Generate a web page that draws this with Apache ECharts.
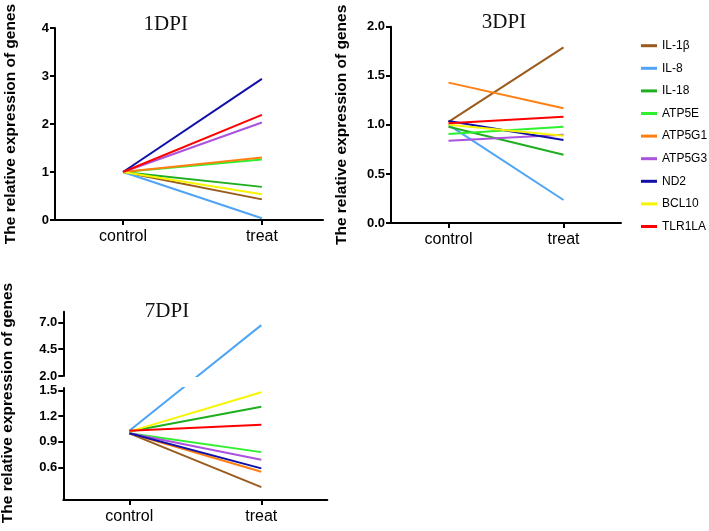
<!DOCTYPE html>
<html><head><meta charset="utf-8">
<script src="https://cdn.jsdelivr.net/npm/echarts@6/dist/echarts.min.js"></script>
<style>html,body{margin:0;padding:0;background:#fff}#c{width:709px;height:531px}</style>
</head><body><div id="c"></div>
<script>
// ---- data ----
const categories = ['control', 'treat'];
const genes = ['IL-1β', 'IL-8', 'IL-18', 'ATP5E', 'ATP5G1', 'ATP5G3', 'ND2', 'BCL10', 'TLR1LA'];
const dpi1Control = [1.00, 1.00, 1.00, 1.00, 1.00, 1.00, 1.00, 1.00, 1.00];
const dpi1Treat   = [0.43, 0.035, 0.69, 1.26, 1.30, 2.03, 2.94, 0.535, 2.19];
const dpi3Control = [1.03, 1.00, 0.98, 0.907, 1.43, 0.838, 1.04, 1.00, 1.016];
const dpi3Treat   = [1.79, 0.234, 0.696, 0.98, 1.17, 0.90, 0.846, 0.89, 1.083];
const dpi7Control = [1.00, 1.03, 1.02, 1.00, 1.00, 1.00, 1.00, 1.02, 1.03];
const dpi7Treat   = [0.37, 6.75, 1.31, 0.78, 0.55, 0.69, 0.59, 1.48, 1.10];
const ticks1 = [0, 1, 2, 3, 4];
const ticks3 = [0, 0.5, 1.0, 1.5, 2.0];
const ticks7Upper = [2.0, 4.5, 7.0];
const ticks7Lower = [0.6, 0.9, 1.2, 1.5];
const panelTitles = ['1DPI', '3DPI', '7DPI'];
const yName = 'The relative expression of genes';

// ---- style ----
const geneColors = ['#9a5b1c', '#4ea5f5', '#1fae1f', '#2ef02e', '#ff7f11', '#ab52de', '#1010a8', '#f6f600', '#ff0000'];
const SANS = "'Liberation Sans', Arial, sans-serif";
const SERIF = "'Liberation Serif', 'Times New Roman', serif";
const AX = { color: '#000', width: 2 };

function mkX(gridIndex, min, max, show) {
  return {
    type: 'value', gridIndex, min, max, show,
    axisLine: { show: true, onZero: false, lineStyle: AX },
    axisTick: { show: true, customValues: [0, 1], length: 5, lineStyle: AX },
    axisLabel: { customValues: [0, 1], formatter: v => categories[Math.round(v)] || '', margin: 9,
      fontFamily: SANS, fontSize: 16, color: '#000' },
    splitLine: { show: false }
  };
}
function mkY(gridIndex, min, max, ticks, dec, name, nameGap) {
  return {
    type: 'value', gridIndex, min, max,
    name: name || '', nameLocation: 'middle', nameGap: nameGap || 0,
    nameTextStyle: { fontFamily: SANS, fontWeight: 'bold', fontSize: 15.5, color: '#000' },
    axisLine: { show: true, onZero: false, lineStyle: AX },
    axisTick: { show: true, customValues: ticks, length: 5, lineStyle: AX },
    axisLabel: { customValues: ticks, formatter: v => v.toFixed(dec), margin: 6,
      fontFamily: SANS, fontWeight: 'bold', fontSize: 13, color: '#000' },
    splitLine: { show: false }
  };
}

const grids = [
  { left: 55, top: 28, width: 268, height: 192 },
  { left: 391, top: 26.7, width: 230, height: 196.3 },
  { left: 63.3, top: 388, width: 264, height: 112 },
  { left: 63.3, top: 311.7, width: 264, height: 64.3 }
].map(g => Object.assign({ containLabel: false, outerBoundsMode: 'none' }, g));

const xAxes = [mkX(0, -0.49, 1.44, true), mkX(1, -0.5, 1.5, true), mkX(2, -0.5, 1.5, true), mkX(3, -0.5, 1.5, false)];
const yAxes = [
  mkY(0, 0, 4, ticks1, 0, yName, 36),
  mkY(1, 0, 2, ticks3, 1, yName, 41),
  mkY(2, 0.22, 1.53, ticks7Lower, 1),
  mkY(3, 2, 8, ticks7Upper, 1)
];

function line(id, gi, idx, data) {
  return {
    id, type: 'line', name: genes[idx], xAxisIndex: gi, yAxisIndex: gi, data,
    symbol: 'none', clip: true, animation: false,
    lineStyle: { color: geneColors[idx], width: 2 },
    itemStyle: { color: geneColors[idx] }
  };
}
const series = [];
genes.forEach((g, i) => series.push(line('d1_' + i, 0, i, [[0, dpi1Control[i]], [1, dpi1Treat[i]]])));
genes.forEach((g, i) => series.push(line('d3_' + i, 1, i, [[0, dpi3Control[i]], [1, dpi3Treat[i]]])));
genes.forEach((g, i) => {
  series.push(line('d7L_' + i, 2, i, [[0, dpi7Control[i]], [1, dpi7Treat[i]]]));
  series.push(line('d7U_' + i, 3, i, [[0, dpi7Control[i]], [1, dpi7Treat[i]]]));
});

const chart = echarts.init(document.getElementById('c'), null, { renderer: 'canvas' });
chart.setOption({
  animation: false,
  backgroundColor: '#fff',
  grid: grids, xAxis: xAxes, yAxis: yAxes,
  legend: {
    orient: 'vertical', left: 636, top: 32.7, icon: 'rect', itemWidth: 16, itemHeight: 3, itemGap: 6.6,
    data: genes.map((g, i) => ({ name: g, itemStyle: { color: geneColors[i] } })),
    textStyle: { fontFamily: SANS, fontSize: 12, lineHeight: 16, color: '#000' }
  },
  graphic: [
    { type: 'text', x: 165.7, y: 24, style: { text: panelTitles[0], fontFamily: SERIF, fontSize: 21, fill: '#111', align: 'center', verticalAlign: 'middle' } },
    { type: 'text', x: 504, y: 22, style: { text: panelTitles[1], fontFamily: SERIF, fontSize: 21, fill: '#111', align: 'center', verticalAlign: 'middle' } },
    { type: 'text', x: 167, y: 311.5, style: { text: panelTitles[2], fontFamily: SERIF, fontSize: 21, fill: '#111', align: 'center', verticalAlign: 'middle' } },
    { type: 'text', x: 7.5, y: 403, rotation: Math.PI / 2, style: { text: yName, fontFamily: SANS, fontWeight: 'bold', fontSize: 15.5, fill: '#000', align: 'center', verticalAlign: 'middle' } }
  ],
  series
});

// Broken axis in 7DPI: a mark crossing the break is a straight line in screen space
// from its control point (lower segment) to its treat point (upper segment), clipped by each segment.
const upd = [];
genes.forEach((g, i) => {
  const pC = chart.convertToPixel({ gridIndex: 2 }, [0, dpi7Control[i]]);
  const pT = dpi7Treat[i] > 1.53 ? chart.convertToPixel({ gridIndex: 3 }, [1, dpi7Treat[i]])
                                 : chart.convertToPixel({ gridIndex: 2 }, [1, dpi7Treat[i]]);
  const lowT = chart.convertFromPixel({ gridIndex: 2 }, pT);
  const upC = chart.convertFromPixel({ gridIndex: 3 }, pC);
  const upT = chart.convertFromPixel({ gridIndex: 3 }, pT);
  upd.push({ id: 'd7L_' + i, data: [[0, dpi7Control[i]], [1, lowT[1]]] });
  upd.push({ id: 'd7U_' + i, data: [[0, upC[1]], [1, upT[1]]] });
});
chart.setOption({ series: upd });
</script>
</body></html>
